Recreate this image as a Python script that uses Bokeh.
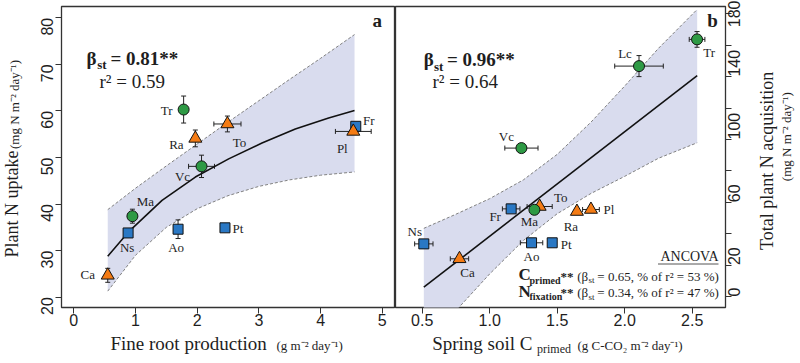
import math
from bokeh.plotting import figure
from bokeh.models import ColumnDataSource, Range1d, Label, Whisker, TeeHead, FixedTicker, NumeralTickFormatter
from bokeh.layouts import row, column
from bokeh.core.properties import value
from bokeh.embed import file_html
from bokeh.resources import INLINE

# ---------------- data: panel a (fine root production vs plant N uptake)
species_a = ["Ca", "Ns", "Ma", "Ao", "Pt", "Tr", "Ra", "Vc", "To", "Fr", "Pl"]
group_a = ["tri", "sq", "circ", "sq", "sq", "circ", "tri", "circ", "tri", "sq", "tri"]
froot = [0.55, 0.88, 0.95, 1.69, 2.45, 1.78, 1.97, 2.07, 2.49, 4.57, 4.53]
froot_err = [0, 0, 0, 0, 0, 0, 0, 0.21, 0.22, 0, 0.29]
n_uptake = [24.7, 33.8, 37.4, 34.6, 34.9, 60.3, 54.1, 48.1, 57.2, 56.7, 55.6]
n_uptake_err = [1.5, 0, 1.5, 2.0, 0, 2.9, 1.8, 2.4, 1.7, 0, 0]

fit_a_x = [0.55, 0.9, 1.43, 1.97, 2.51, 3.05, 3.59, 4.13, 4.55]
fit_a_y = [28.8, 34.2, 40.8, 45.8, 49.7, 53.1, 56.1, 58.5, 60.1]
band_a_x = [0.55, 1.0, 1.5, 2.0, 2.5, 3.0, 3.5, 4.0, 4.55]
band_a_hi = [38.8, 43.4, 48.2, 52.9, 57.6, 62.2, 66.8, 71.3, 76.4]
band_a_lo = [21.3, 29.0, 35.0, 39.0, 41.8, 43.8, 45.2, 46.2, 46.9]

# ---------------- data: panel b (spring soil C primed vs total plant N acquisition)
species_b = ["Ns", "Ca", "Fr", "To", "Ma", "Ao", "Pt", "Ra", "Pl", "Vc", "Lc", "Tr"]
group_b = ["sq", "tri", "sq", "tri", "circ", "sq", "sq", "tri", "tri", "circ", "circ", "circ"]
c_primed = [0.512, 0.776, 1.159, 1.37, 1.331, 1.31, 1.463, 1.646, 1.75, 1.235, 2.106, 2.536]
c_primed_err = [0.068, 0.068, 0.065, 0.093, 0, 0.083, 0, 0, 0.062, 0.123, 0.18, 0.058]
n_total = [33.5, 24.0, 55.8, 57.3, 55.2, 34.2, 34.2, 54.1, 55.4, 94.5, 146.7, 163.7]
n_total_err = [0, 0, 0, 0, 0, 0, 0, 0, 0, 0, 6.7, 5.0]

fit_b_x = [0.512, 2.537]
fit_b_y = [5.9, 140.6]
band_b_x = [0.512, 0.75, 1.0, 1.25, 1.5, 1.75, 2.0, 2.25, 2.537]
band_b_hi = [43.4, 52.4, 62.3, 74.3, 90.5, 111.0, 134.0, 158.0, 182.8]
band_b_lo = [-31.6, -9.0, 14.4, 35.7, 52.7, 65.6, 76.5, 88.0, 97.9]

ticks_a_x = [0, 1, 2, 3, 4, 5]
ticks_a_y = [20, 30, 40, 50, 60, 70, 80]
ticks_b_x = [0.5, 1.0, 1.5, 2.0, 2.5]
ticks_b_y = [0, 20, 40, 60, 80, 100, 120, 140, 160, 180]
hidden_b_y = [40, 80, 120, 160]

# ---------------- label offsets (px, right / down)
off_a = [(-20, -1), (-1, 15), (13, -15), (-2, 18), (13, 1), (-17, 1),
         (-19, 6), (-19, 10), (12, 19), (13, -6), (-11, 17)]
off_b = [(-9, -12), (8, 14), (-16, 8), (21, -9), (-5, 12), (0, 14),
         (14, 2), (-6, 15), (18, 0), (-15, -12), (-14, -13), (12, 13)]

# ---------------- style
SERIF = "Liberation Serif"
SANS = "Liberation Sans"
TXT = "#1e1e1e"
BAND = "#d9dcee"
EDGE = "#808080"
STY = {
    "circ": dict(marker="circle", size=11, fill_color="#2e9a45"),
    "tri": dict(marker="triangle", size=13, fill_color="#f47b14"),
    "sq": dict(marker="square", size=10, fill_color="#2a78c4"),
}
ORDER = ["sq", "tri", "circ"]

# layout (picture pixels)
W, H = 800, 363
ROW_H = 332           # height of the panel row
TOP, BOT = 6, 307     # frame top / bottom
LT_W = 28             # left title strip
A_L, A_R = 61, 395    # panel a frame
B_L, B_R = 395, 725   # panel b frame
RT_L = 755            # right title strip starts

XA = (-0.1994, 5.2139)
YA = (17.788, 82.427)
XB = (0.3022, 2.7467)
YB = (-7.004, 184.648)

SUP2 = "\u207b\u00b2"
SUP1 = "\u207b\u00b9"
MID = 0.34    # em distance from baseline to the middle of the text box
VSHIFT = 0.85  # em correction along rotated text


def mapper(fl, fr, xr, yr):
    def fx(px):
        return xr[0] + (px - fl) / (fr - fl) * (xr[1] - xr[0])

    def fy(py):
        return yr[0] + (BOT - py) / (BOT - TOP) * (yr[1] - yr[0])
    return fx, fy


def make_fig(width, xr, yr, mb_left, mb_right, yloc):
    p = figure(width=width, height=ROW_H, x_range=Range1d(*xr), y_range=Range1d(*yr),
               output_backend="svg", toolbar_location=None, y_axis_location=yloc,
               min_border_left=mb_left, min_border_right=mb_right,
               min_border_top=TOP, min_border_bottom=ROW_H - BOT)
    p.grid.grid_line_color = None
    p.outline_line_color = "#333333"
    p.outline_line_width = 1.3
    p.background_fill_color = "white"
    p.border_fill_color = "white"
    for ax in p.axis:
        ax.axis_line_color = None
        ax.major_tick_line_color = "#333333"
        ax.major_tick_out = 6
        ax.major_tick_in = 0
        ax.minor_tick_line_color = None
        ax.major_label_text_font = SANS
        ax.major_label_text_font_size = "16px"
        ax.major_label_text_color = TXT
    return p


def text_fig(width, height):
    p = figure(width=width, height=height, x_range=Range1d(0, width), y_range=Range1d(0, height),
               output_backend="svg", toolbar_location=None, x_axis_location=None,
               y_axis_location=None, min_border=0)
    p.min_border_left = p.min_border_right = p.min_border_top = p.min_border_bottom = 0
    p.grid.visible = False
    p.outline_line_color = None
    p.background_fill_color = "white"
    p.border_fill_color = "white"
    return p


def draw_panel(p, xs, xe, ys, ye, groups, names, offs, fitx, fity, bx, bhi, blo):
    p.patch(bx + bx[::-1], bhi + blo[::-1], fill_color=BAND, line_color=None, level="image")
    p.line(bx, bhi, line_color=EDGE, line_dash="3 2", line_width=1, level="image")
    p.line(bx, blo, line_color=EDGE, line_dash="3 2", line_width=1, level="image")
    iy = [i for i in range(len(xs)) if ye[i] > 0]
    if iy:
        s = ColumnDataSource(dict(x=[xs[i] for i in iy],
                                  lo=[ys[i] - ye[i] for i in iy],
                                  hi=[ys[i] + ye[i] for i in iy]))
        p.add_layout(Whisker(source=s, base="x", lower="lo", upper="hi", dimension="height",
                             line_color="#222222", line_width=1, level="underlay",
                             upper_head=TeeHead(size=5, line_color="#222222", line_width=1),
                             lower_head=TeeHead(size=5, line_color="#222222", line_width=1)))
    ix = [i for i in range(len(xs)) if xe[i] > 0]
    if ix:
        s = ColumnDataSource(dict(y=[ys[i] for i in ix],
                                  lo=[xs[i] - xe[i] for i in ix],
                                  hi=[xs[i] + xe[i] for i in ix]))
        p.add_layout(Whisker(source=s, base="y", lower="lo", upper="hi", dimension="width",
                             line_color="#222222", line_width=1, level="underlay",
                             upper_head=TeeHead(size=5, line_color="#222222", line_width=1),
                             lower_head=TeeHead(size=5, line_color="#222222", line_width=1)))
    p.line(fitx, fity, line_color="#111111", line_width=1.6)
    for g in ORDER:
        idx = [i for i in range(len(xs)) if groups[i] == g]
        p.scatter([xs[i] for i in idx], [ys[i] for i in idx], line_color="#111111",
                  line_width=1, **STY[g])
    src = ColumnDataSource(dict(x=xs, y=ys, t=names, dx=[o[0] for o in offs],
                                dy=[o[1] for o in offs]))
    p.text(x="x", y="y", text="t", x_offset="dx", y_offset="dy", source=src,
           text_font=value(SERIF), text_font_size="13px", text_color=TXT,
           text_align="center", text_baseline="middle")


def lab(p, fx, fy, px, py, text, size, bold=False, align="left"):
    """Horizontal text; (px, py) = left/right end on the baseline, picture pixels."""
    p.add_layout(Label(x=fx(px), y=fy(py - MID * size), text=text, text_font=SERIF,
                       text_font_size=f"{size}px", text_font_style="bold" if bold else "normal",
                       text_color=TXT, text_align=align, text_baseline="middle"))


def vlab(p, fx, fy, px, pyc, text, size):
    """Text reading bottom-to-top; px = baseline x, pyc = centre along the text."""
    p.add_layout(Label(x=fx(px - MID * size), y=fy(pyc + VSHIFT * size), text=text,
                       text_font=SERIF, text_font_size=f"{size}px", text_color=TXT,
                       angle=math.pi / 2, text_align="center", text_baseline="middle"))


# ---------------- panel a
p1 = make_fig(A_R - LT_W, XA, YA, A_L - LT_W, 0, "left")
p1.xaxis.ticker = FixedTicker(ticks=ticks_a_x)
p1.yaxis.ticker = FixedTicker(ticks=ticks_a_y)
p1.yaxis.major_label_orientation = math.pi / 2
p1.yaxis.major_label_standoff = 8
p1.xaxis.major_label_standoff = 0
draw_panel(p1, froot, froot_err, n_uptake, n_uptake_err, group_a, species_a, off_a,
           fit_a_x, fit_a_y, band_a_x, band_a_hi, band_a_lo)
fxa, fya = mapper(A_L, A_R, XA, YA)
lab(p1, fxa, fya, 372, 26, "a", 19, bold=True)
lab(p1, fxa, fya, 86, 64, "\u03b2", 19, bold=True)
lab(p1, fxa, fya, 96.7, 68.5, "st", 13, bold=True)
lab(p1, fxa, fya, 110, 64, "= 0.81**", 19, bold=True)
lab(p1, fxa, fya, 99, 87, "r\u00b2 = 0.59", 19)

# ---------------- panel b
p2 = make_fig(RT_L - B_L, XB, YB, 0, RT_L - B_R, "right")
p2.xaxis.ticker = FixedTicker(ticks=ticks_b_x)
p2.xaxis.formatter = NumeralTickFormatter(format="0.0")
p2.yaxis.ticker = FixedTicker(ticks=ticks_b_y)
p2.yaxis.major_label_overrides = {k: "" for k in hidden_b_y}
p2.yaxis.major_label_orientation = math.pi / 2
p2.yaxis.major_label_standoff = 3
p2.xaxis.major_label_standoff = 0
draw_panel(p2, c_primed, c_primed_err, n_total, n_total_err, group_b, species_b, off_b,
           fit_b_x, fit_b_y, band_b_x, band_b_hi, band_b_lo)
fxb, fyb = mapper(B_L, B_R, XB, YB)
lab(p2, fxb, fyb, 706.7, 26, "b", 19, bold=True)
lab(p2, fxb, fyb, 423.3, 65.5, "\u03b2", 19, bold=True)
lab(p2, fxb, fyb, 433.5, 70, "st", 13, bold=True)
lab(p2, fxb, fyb, 446.5, 65.5, "= 0.96**", 19, bold=True)
lab(p2, fxb, fyb, 432, 87.5, "r\u00b2 = 0.64", 19)
lab(p2, fxb, fyb, 718, 260.7, "ANCOVA", 14, align="right")
p2.line([fxb(657.5), fxb(718)], [fyb(263.5), fyb(263.5)], line_color="#555555", line_width=1)
for base, big, sub, val in [(280, "C", "primed", "= 0.65, % of r\u00b2 = 53 %)"),
                            (296.7, "N", "fixation", "= 0.34, % of r\u00b2 = 47 %)")]:
    lab(p2, fxb, fyb, 518, base, big, 17, bold=True)
    lab(p2, fxb, fyb, 529, base + 3, sub, 10, bold=True)
    lab(p2, fxb, fyb, 560, base, "**", 13, bold=True)
    lab(p2, fxb, fyb, 576.7, base, "(\u03b2", 13)
    lab(p2, fxb, fyb, 588, base + 2.5, "st", 9)
    lab(p2, fxb, fyb, 718.3, base, val, 13, align="right")

# ---------------- title strips (text drawn inside their own frames)
tl = text_fig(LT_W, ROW_H)
fxl = lambda px: px
fyl = lambda py: ROW_H - py
vlab(tl, fxl, fyl, 18, 202.5, "Plant N uptake", 18)
vlab(tl, fxl, fyl, 18, 97, "(mg N m" + SUP2 + " day" + SUP1 + ")", 13)

tr = text_fig(W - RT_L, ROW_H)
fxr = lambda px: px - RT_L
vlab(tr, fxr, fyl, 773, 155, "Total plant N acquisition", 18)
vlab(tr, fxr, fyl, 790, 132.5, "(mg N m" + SUP2 + " day" + SUP1 + ")", 13)

tb = text_fig(W, H - ROW_H)
fxbt = lambda px: px
fybt = lambda py: H - py
lab(tb, fxbt, fybt, 110, 349.5, "Fine root production", 19)
lab(tb, fxbt, fybt, 276, 349.5, "(g m" + SUP2 + " day" + SUP1 + ")", 13)
lab(tb, fxbt, fybt, 431.7, 349.5, "Spring soil C", 19)
lab(tb, fxbt, fybt, 536.5, 353, "primed", 12)
lab(tb, fxbt, fybt, 577, 349.5, "(g C-CO\u2082 m" + SUP2 + " day" + SUP1 + ")", 13)

layout = column(row(tl, p1, p2, tr), tb)
open("out.html", "w").write(file_html(layout, INLINE))
